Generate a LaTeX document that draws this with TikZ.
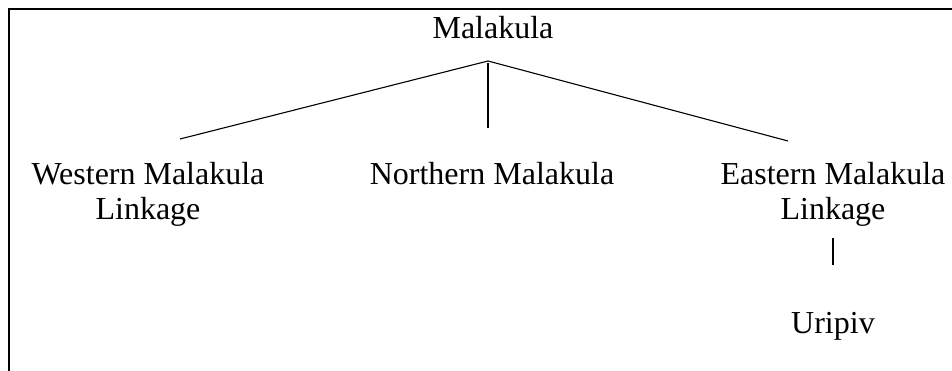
\documentclass[tikz,border=0pt]{standalone}
\usepackage{fontspec}
\setmainfont{Liberation Serif}
\begin{document}
\begin{tikzpicture}[x=1pt,y=-1pt,
  lbl/.style={anchor=base,inner sep=0pt,align=center,font=\fontsize{32}{35}\selectfont},
  edge/.style={line width=1.1pt},
  frame/.style={line width=2.6pt}]
\useasboundingbox (0,0) rectangle (952,371);
\coordinate (bl) at (9,371);
\coordinate (tl) at (9,9);
\coordinate (tr) at (952,9);
\draw[frame] (bl) -- (tl) -- (tr);
\node[lbl] (mal) at (493,39) {Malakula};
\node[lbl] (wml) at (148,220) {Western Malakula\\Linkage};
\node[lbl] (nml) at (492,185) {Northern Malakula};
\node[lbl] (eml) at (833,220) {Eastern Malakula\\Linkage};
\node[lbl] (uri) at (833,333) {Uripiv};
\coordinate (apex) at (488,61);
\coordinate (wend) at (180,139);
\coordinate (ntop) at (488,63);
\coordinate (nend) at (488,128);
\coordinate (eend) at (788,141);
\coordinate (utop) at (833,238);
\coordinate (ubot) at (833,265);
\draw[edge] (wend) -- (apex) -- (eend);
\draw[edge] (ntop) -- (nend);
\draw[edge] (utop) -- (ubot);
\end{tikzpicture}
\end{document}
